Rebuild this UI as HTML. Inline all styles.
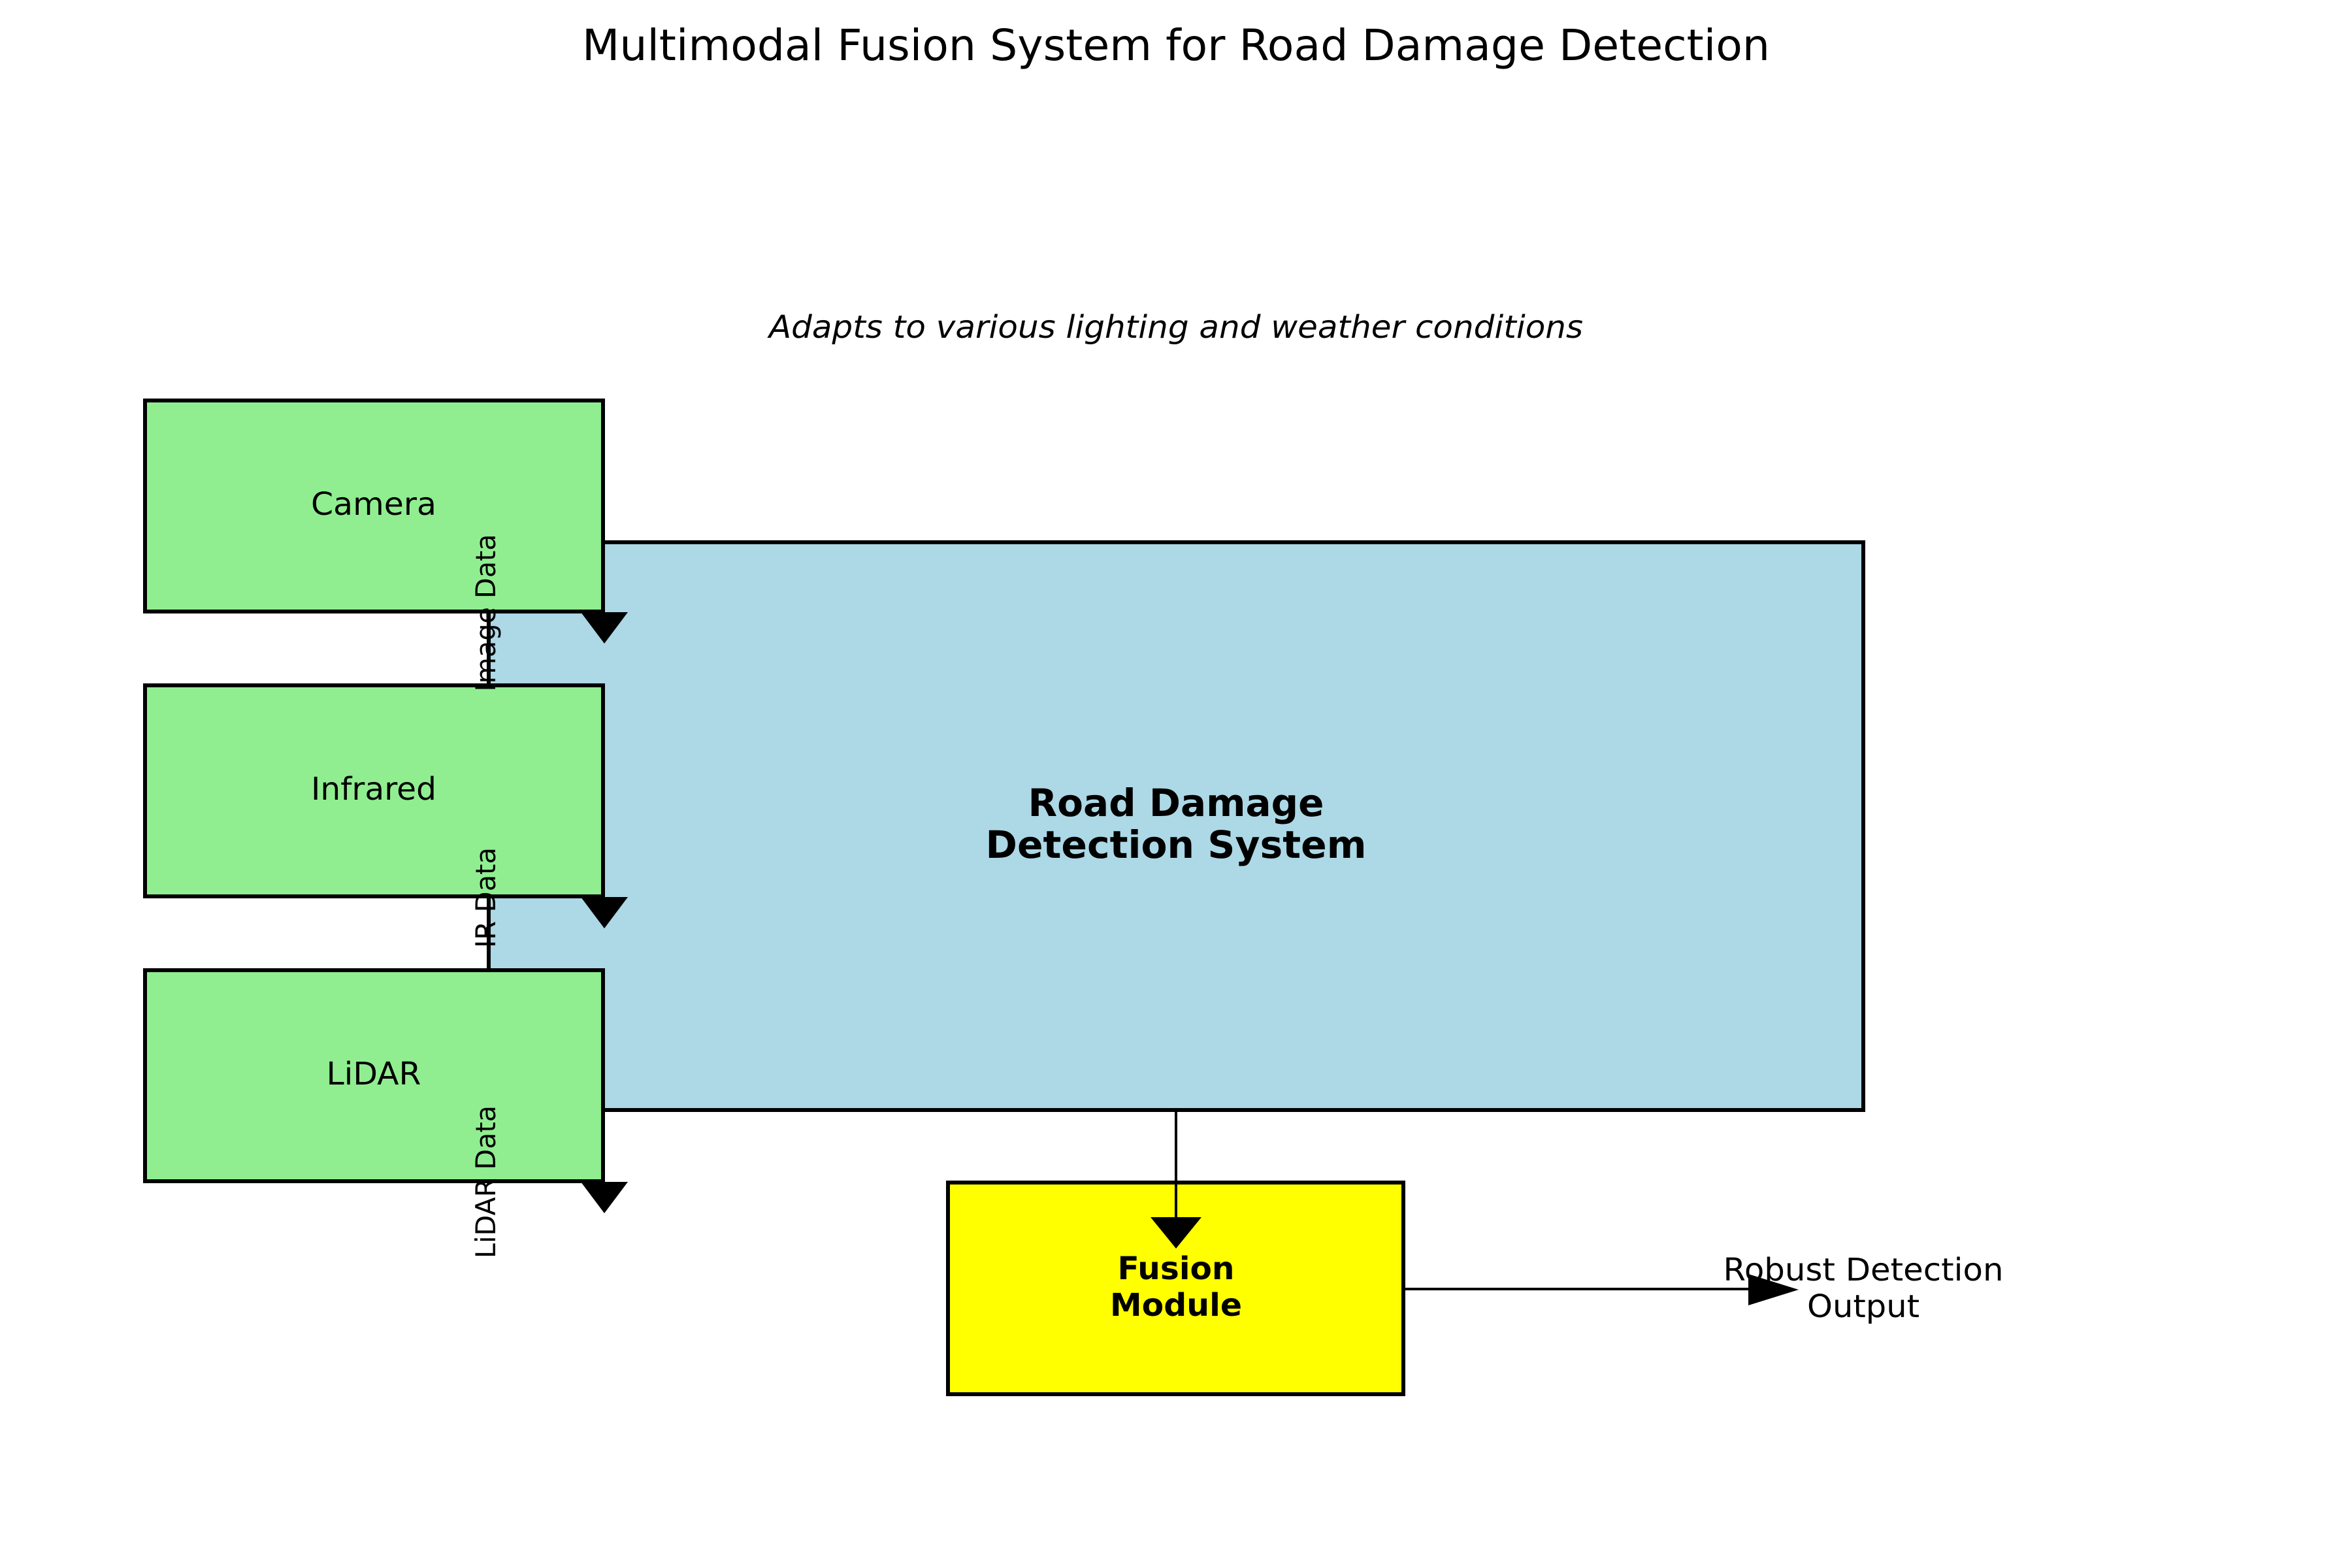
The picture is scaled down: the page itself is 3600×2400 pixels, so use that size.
<!DOCTYPE html>
<html><head><meta charset="utf-8"><style>
html,body{margin:0;padding:0;background:#fff;}
svg{display:block;}
text{font-family:"DejaVu Sans","Liberation Sans",sans-serif;fill:#000;}
</style></head><body>
<svg width="3600" height="2400" viewBox="0 0 3600 2400" xmlns="http://www.w3.org/2000/svg">
<rect x="0" y="0" width="3600" height="2400" fill="#fff"/>
<text x="1800" y="92" font-size="66" text-anchor="middle" textLength="1818" lengthAdjust="spacingAndGlyphs">Multimodal Fusion System for Road Damage Detection</text>
<text x="1800" y="517" font-size="48" font-style="italic" text-anchor="middle" textLength="1246" lengthAdjust="spacingAndGlyphs">Adapts to various lighting and weather conditions</text>

<!-- main box -->
<rect x="748" y="830" width="2104" height="869" fill="#add8e6" stroke="#000" stroke-width="6"/>
<text x="1800" y="1249" font-size="58" font-weight="bold" text-anchor="middle" textLength="453" lengthAdjust="spacingAndGlyphs">Road Damage</text>
<text x="1800" y="1313" font-size="58" font-weight="bold" text-anchor="middle" textLength="583" lengthAdjust="spacingAndGlyphs">Detection System</text>

<!-- sensor boxes -->
<rect x="222" y="613" width="701" height="323" fill="#90ee90" stroke="#000" stroke-width="6"/>
<text x="572" y="788" font-size="48" text-anchor="middle" textLength="192" lengthAdjust="spacingAndGlyphs">Camera</text>
<rect x="222" y="1049" width="701" height="323" fill="#90ee90" stroke="#000" stroke-width="6"/>
<text x="572" y="1224" font-size="48" text-anchor="middle" textLength="192" lengthAdjust="spacingAndGlyphs">Infrared</text>
<rect x="222" y="1485" width="701" height="323" fill="#90ee90" stroke="#000" stroke-width="6"/>
<text x="572" y="1660" font-size="48" text-anchor="middle" textLength="145" lengthAdjust="spacingAndGlyphs">LiDAR</text>

<!-- arrowheads -->
<polygon points="889,937 961,937 925,985" fill="#000"/>
<polygon points="889,1373 961,1373 925,1421" fill="#000"/>
<polygon points="889,1809 961,1809 925,1857" fill="#000"/>

<!-- rotated labels -->
<text transform="translate(758,938) rotate(-90)" font-size="42" text-anchor="middle" textLength="241" lengthAdjust="spacingAndGlyphs">Image Data</text>
<text transform="translate(758,1374) rotate(-90)" font-size="42" text-anchor="middle" textLength="154" lengthAdjust="spacingAndGlyphs">IR Data</text>
<text transform="translate(758,1809) rotate(-90)" font-size="42" text-anchor="middle" textLength="234" lengthAdjust="spacingAndGlyphs">LiDAR Data</text>

<!-- fusion -->
<rect x="1451" y="1810" width="697" height="324" fill="#ffff00" stroke="#000" stroke-width="6"/>
<line x1="1800" y1="1699" x2="1800" y2="1866" stroke="#000" stroke-width="4"/>
<polygon points="1761,1863 1839,1863 1800,1911" fill="#000"/>
<text x="1800" y="1958" font-size="48" font-weight="bold" text-anchor="middle" textLength="179" lengthAdjust="spacingAndGlyphs">Fusion</text>
<text x="1800" y="2014" font-size="48" font-weight="bold" text-anchor="middle" textLength="202" lengthAdjust="spacingAndGlyphs">Module</text>

<!-- output -->
<line x1="2148" y1="1973" x2="2680" y2="1973" stroke="#000" stroke-width="4"/>
<text x="2852" y="1960" font-size="48" text-anchor="middle" textLength="429" lengthAdjust="spacingAndGlyphs">Robust Detection</text>
<text x="2852" y="2016" font-size="48" text-anchor="middle" textLength="172" lengthAdjust="spacingAndGlyphs">Output</text>
<polygon points="2676,1950 2676,1998 2753,1974" fill="#000"/>
</svg>
</body></html>
